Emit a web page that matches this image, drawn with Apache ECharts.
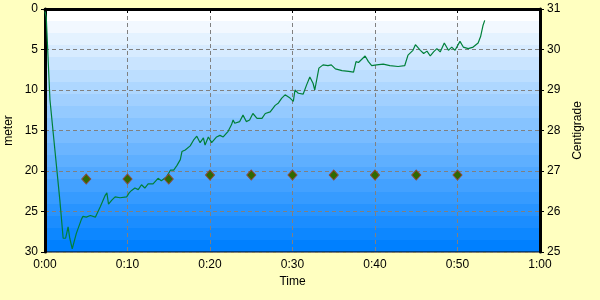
<!DOCTYPE html>
<html><head><meta charset="utf-8">
<script src="https://cdn.jsdelivr.net/npm/echarts@6/dist/echarts.min.js"></script>
<style>html,body{margin:0;padding:0;background:#ffffc0;}#c{width:600px;height:300px;}</style>
</head><body><div id="c"></div>
<script>
// Depth profile (minutes, meters)
var depthTimes = [0,0.15,0.6,1.2,1.8,2.2,2.5,2.8,3.0,3.3,3.8,4.4,4.6,5.0,5.5,6.1,6.7,7.3,7.5,7.7,8.1,8.5,9.1,9.9,10.2,10.5,10.9,11.3,11.7,12.1,12.5,13.1,13.7,14.1,14.75,15.2,15.6,16.0,16.4,16.6,17.0,17.6,18.0,18.4,18.8,19.2,19.4,19.8,20.2,20.8,21.2,21.6,22.2,22.6,22.8,23.0,23.6,24.0,24.4,24.8,25.2,25.7,26.3,26.7,27.3,27.9,28.3,28.7,29.1,29.3,29.7,30.1,30.3,30.7,31.3,31.7,32.1,32.5,32.7,33.2,33.7,34.3,34.7,35.2,36.0,36.8,37.4,37.7,38.0,38.8,39.2,39.6,40.2,41.0,41.8,42.8,43.6,44.0,44.6,44.9,45.5,45.9,46.3,46.7,47.1,47.5,47.9,48.4,48.9,49.3,49.7,50.3,50.7,51.3,51.9,52.5,52.8,53.1,53.3];
var depths = [0.3,1.0,11.2,17.4,23.6,28.3,28.3,26.9,28.3,29.6,27.7,26.0,25.6,25.7,25.5,25.7,24.4,23.0,22.7,24.1,23.6,23.2,23.3,23.2,22.7,22.4,22.1,22.3,21.7,22.1,21.6,21.6,20.9,21.2,20.7,19.9,19.9,19.3,18.6,17.6,17.4,16.9,16.2,15.7,16.5,15.9,16.8,15.8,16.5,15.8,15.6,15.8,15.1,14.3,13.7,14.1,13.9,13.1,13.9,13.7,12.9,13.5,13.5,12.9,12.7,11.9,11.6,11.0,10.6,10.6,11.0,11.4,10.0,10.4,10.5,9.4,8.4,9.2,10.0,7.3,6.9,7.0,6.9,7.4,7.6,7.7,7.8,6.5,6.6,5.8,6.5,7.0,6.9,6.8,7.0,7.1,7.0,5.7,5.1,4.4,5.1,5.5,5.2,5.8,5.3,4.9,5.3,4.2,5.1,4.7,5.1,4.0,4.7,4.9,4.7,4.2,3.4,2.0,1.4];
// Temperature samples (minutes, Centigrade)
var tempTimes = [5,10,15,20,25,30,35,40,45,50];
var temps = [26.8,26.8,26.8,26.9,26.9,26.9,26.9,26.9,26.9,26.9];

function fmtTime(v){ var h=Math.floor(v/60), m=Math.round(v%60); return h+':'+(m<10?'0':'')+m; }

// banded background gradient (style)
var bands = 20, stops = [];
for (var i=0;i<bands;i++){
  var t = i/(bands-1);
  var r = Math.round(255 + (0-255)*t), g = Math.round(255 + (128-255)*t), b = 255;
  var col = 'rgb('+r+','+g+','+b+')';
  stops.push({offset:i/bands, color:col});
  stops.push({offset:(i+1)/bands, color:col});
}

var font = 'Liberation Sans';
var chart = echarts.init(document.getElementById('c'), null, {renderer:'canvas'});
chart.setOption({
  backgroundColor:'#ffffc0',
  animation:false,
  grid:{left:45,right:60,top:9,bottom:48,show:true,borderColor:'#000',borderWidth:1,outerBoundsMode:'none',containLabel:false,
    backgroundColor:new echarts.graphic.LinearGradient(0,0,0,1,stops)},
  xAxis:{type:'value',min:0,max:60,interval:10,name:'Time',nameLocation:'middle',nameGap:24,
    nameTextStyle:{fontFamily:font,fontSize:12,color:'#000'},
    axisLine:{lineStyle:{color:'#000',width:3}},axisTick:{show:true,length:4,lineStyle:{color:'#000'}},
    axisLabel:{formatter:fmtTime,fontFamily:font,fontSize:12,color:'#000',margin:7},
    splitLine:{show:true,lineStyle:{color:'#808080',type:[4,3],width:1}}},
  yAxis:[
    {type:'value',min:0,max:30,interval:5,inverse:true,name:'meter',nameLocation:'middle',nameGap:30,nameRotate:90,nameMoveOverlap:false,
     nameTextStyle:{fontFamily:font,fontSize:12,color:'#000'},
     axisLine:{show:true,lineStyle:{color:'#000',width:3}},axisTick:{show:true,length:4,lineStyle:{color:'#000'}},
     axisLabel:{fontFamily:font,fontSize:12,color:'#000',margin:7},
     splitLine:{show:true,lineStyle:{color:'#808080',type:[4,3],width:1}}},
    {type:'value',min:25,max:31,interval:1,position:'right',name:'Centigrade',nameLocation:'middle',nameGap:32,nameRotate:90,
     nameTextStyle:{fontFamily:font,fontSize:12,color:'#000'},
     axisLine:{show:true,lineStyle:{color:'#000',width:3}},axisTick:{show:true,length:4,lineStyle:{color:'#000'}},
     axisLabel:{fontFamily:font,fontSize:12,color:'#000',margin:7},
     splitLine:{show:false}}
  ],
  series:[
    {type:'line',yAxisIndex:0,showSymbol:false,symbol:'none',lineStyle:{color:'#00803a',width:1.2},
     data:depthTimes.map(function(t,i){return [t,depths[i]];}),z:3},
    {type:'scatter',yAxisIndex:1,symbol:'diamond',symbolSize:[9,10],
     itemStyle:{color:'#2f6a00',borderColor:'#8a4a3a',borderWidth:1,opacity:1},
     data:tempTimes.map(function(t,i){return [t,temps[i]];}),z:4}
  ]
});
</script></body></html>
